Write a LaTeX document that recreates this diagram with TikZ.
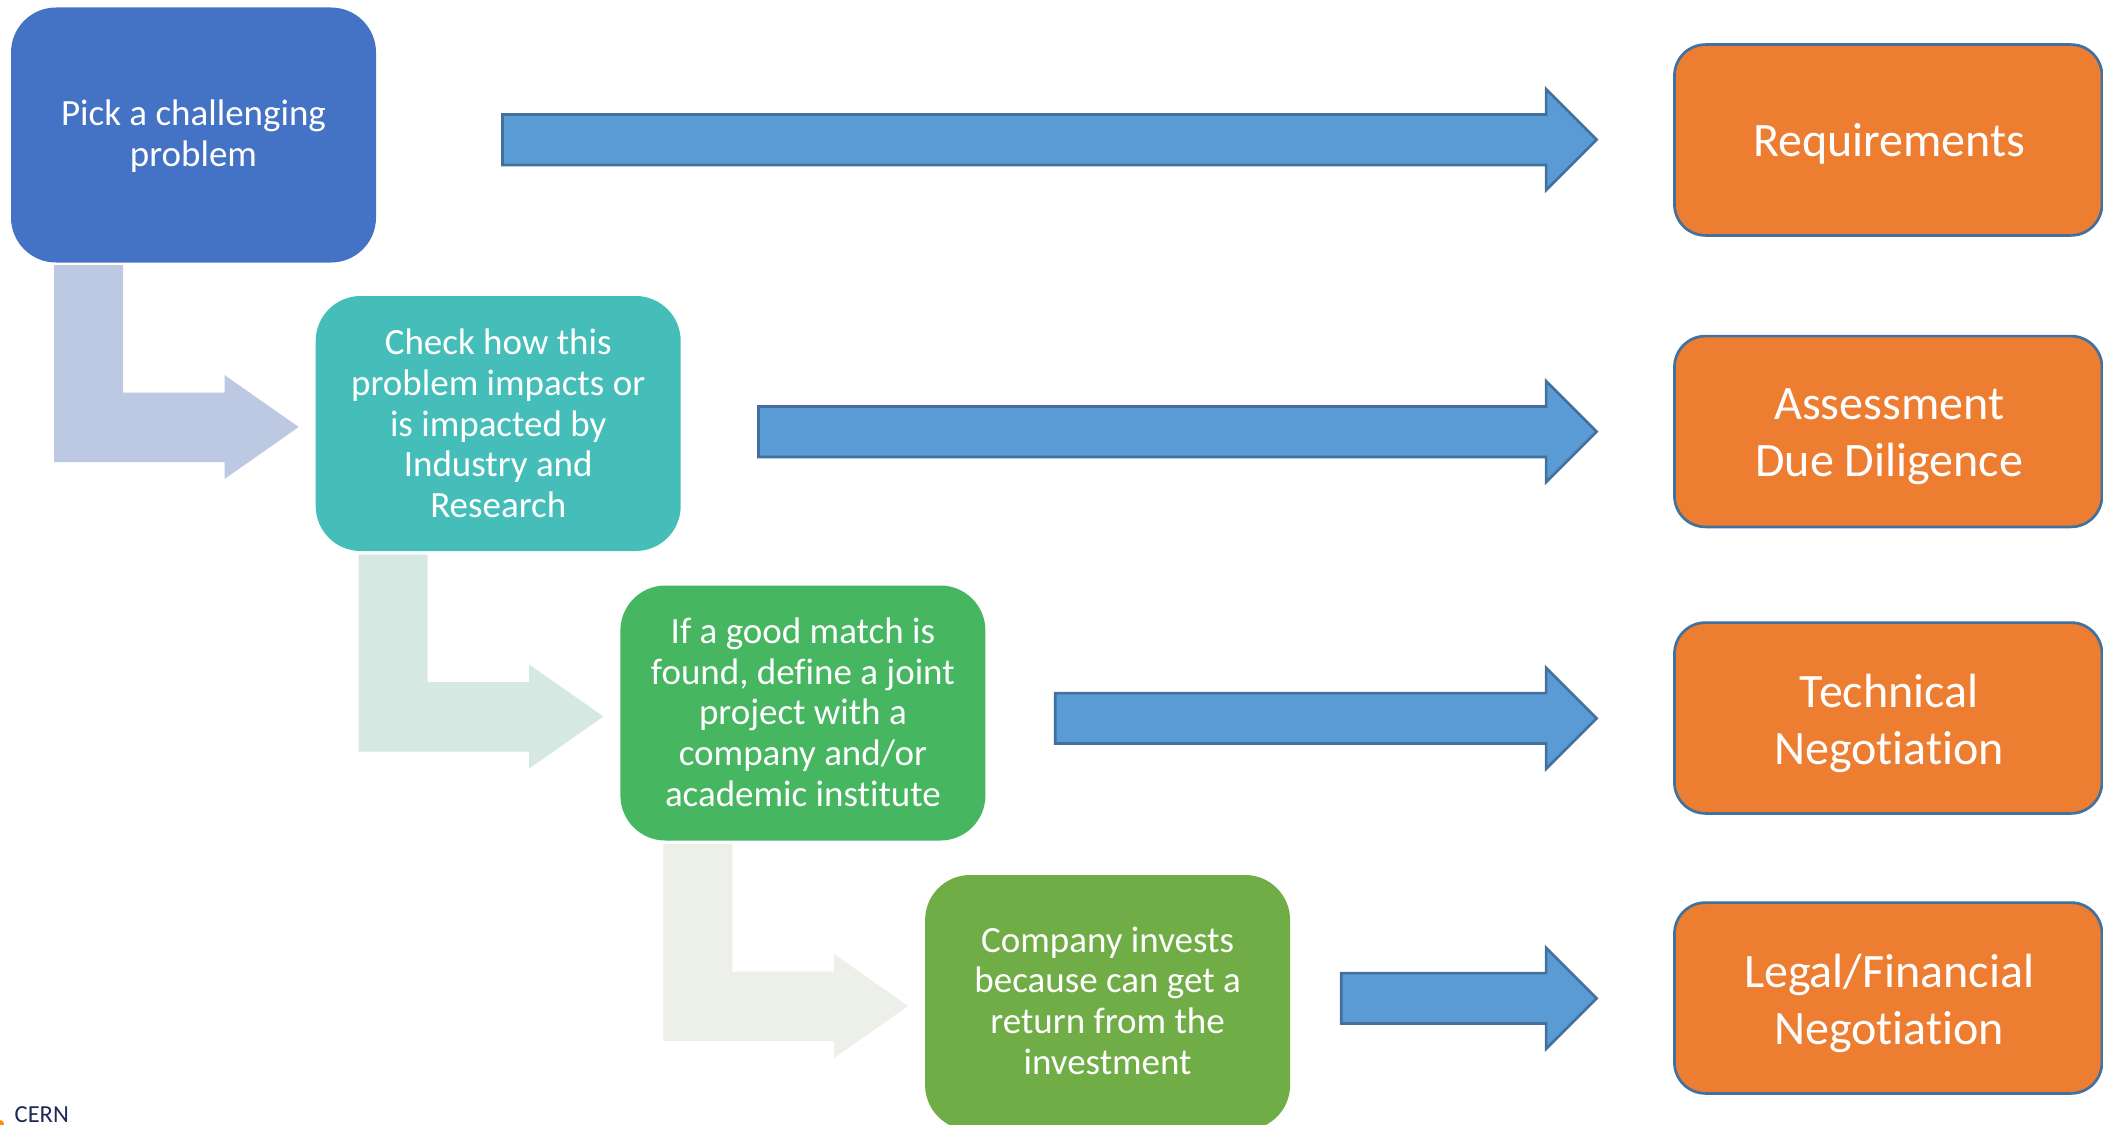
\documentclass[tikz,border=0pt]{standalone}
\usepackage{fontspec}
\setmainfont[Ligatures=NoCommon]{Carlito}
\usetikzlibrary{calc}
\definecolor{cOne}{HTML}{4472C4}
\definecolor{cTwo}{HTML}{45BEB9}
\definecolor{cThree}{HTML}{46B661}
\definecolor{cFour}{HTML}{70AD47}
\definecolor{cOrange}{HTML}{ED7D31}
\definecolor{cBlue}{HTML}{5B9BD5}
\definecolor{cLine}{HTML}{41719C}
\definecolor{cLa}{HTML}{BDC8E3}
\definecolor{cLb}{HTML}{D5E9E2}
\definecolor{cLc}{HTML}{ECF0E8}
\definecolor{cCern}{HTML}{1F2A5A}
\tikzset{
  stepbox/.style={rounded corners=45pt,minimum width=365pt,minimum height=255pt,inner sep=0pt},
  steptext/.style={text=white,align=center,inner sep=0pt,font=\fontsize{37}{40.7}\selectfont},
  resultbox/.style={rounded corners=31pt,draw=cLine,line width=2.7pt,fill=cOrange,minimum width=427.5pt,
    minimum height=190.8pt,inner sep=0pt},
  resulttext/.style={text=white,align=center,inner sep=0pt,xshift=1pt,font=\fontsize{48}{57}\selectfont},
  bluearrow/.style={fill=cBlue,draw=cLine,line width=2.7pt,line join=miter},
  elbow/.style={draw=none}
}
% straight block arrow: named tail, named tip
\newcommand{\blockarrow}[2]{%
  \path[bluearrow] let \p1=(#1),\p2=(#2) in
    (\x1,\y2+25.2pt) -- (\x2-50.5pt,\y2+25.2pt) -- (\x2-50.5pt,\y2+50.5pt) -- (\x2,\y2)
    -- (\x2-50.5pt,\y2-50.5pt) -- (\x2-50.5pt,\y2-25.2pt) -- (\x1,\y2-25.2pt) -- cycle;}
% bent block arrow ending at a named tip
\newcommand{\elbowarrow}[2]{%
  \path[elbow,fill=#2] let \p2=(#1) in
    (\x2-244.7pt,\y2+162pt) -- (\x2-175.7pt,\y2+162pt) -- (\x2-175.7pt,\y2+34.5pt)
    -- (\x2-74.2pt,\y2+34.5pt) -- (\x2-74.2pt,\y2+52pt) -- (\x2,\y2) -- (\x2-74.2pt,\y2-52pt)
    -- (\x2-74.2pt,\y2-35pt) -- (\x2-244.7pt,\y2-35pt) -- cycle;}
\begin{document}
\begin{tikzpicture}[x=1pt,y=-1pt]
\useasboundingbox (0,0) rectangle (2103,1124);
\clip (0,0) rectangle (2103,1124);
\fill[white] (0,0) rectangle (2103,1124);

\coordinate (e1) at (298.7,427);
\coordinate (e2) at (603.4,716.5);
\coordinate (e3) at (908.1,1006);
\elbowarrow{e1}{cLa}
\elbowarrow{e2}{cLb}
\elbowarrow{e3}{cLc}

\node[stepbox,fill=cOne,label={[steptext,yshift=-1.3pt]center:{Pick a challenging\\problem}}] (s1) at (193.5,135) {};
\node[stepbox,fill=cTwo,label={[steptext]center:{Check how this\\problem impacts or\\is impacted by\\Industry and\\Research}}] (s2) at (498.2,423.5) {};
\node[stepbox,fill=cThree,label={[steptext,yshift=0.8pt]center:{If a good match is\\found, define a joint\\project with a\\company and/or\\academic institute}}] (s3) at (802.9,713) {};
\node[stepbox,fill=cFour,label={[steptext,yshift=2pt]center:{Company invests\\because can get a\\return from the\\investment}}] (s4) at (1107.6,1002.5) {};

\node[resultbox,label={[resulttext,yshift=-4.2pt]center:{Requirements}}] (r1) at (1888.2,140) {};
\node[resultbox,label={[resulttext,yshift=-5.5pt]center:{Assessment\\Due Diligence}}] (r2) at (1888.2,431.5) {};
\node[resultbox,label={[resulttext,yshift=-5.5pt]center:{Technical\\Negotiation}}] (r3) at (1888.2,718) {};
\node[resultbox,label={[resulttext,yshift=-5.5pt]center:{Legal/Financial\\Negotiation}}] (r4) at (1888.2,998) {};

\coordinate (a1) at (502.5,139.7);
\coordinate (a2) at (758.5,431.7);
\coordinate (a3) at (1055.2,718.3);
\coordinate (a4) at (1341.2,998.3);
\coordinate (t1) at (1596.6,139.7);
\coordinate (t2) at (1596.6,431.7);
\coordinate (t3) at (1596.6,718.3);
\coordinate (t4) at (1596.6,998.3);
\blockarrow{a1}{t1}
\blockarrow{a2}{t2}
\blockarrow{a3}{t3}
\blockarrow{a4}{t4}

\node[text=cCern,font=\fontsize{24.5}{25}\selectfont,anchor=base west,inner sep=0pt] (cern) at (14.5,1122.8) {CERN};
\fill[orange!90!yellow] (0,1124) circle (4pt);
\end{tikzpicture}
\end{document}
